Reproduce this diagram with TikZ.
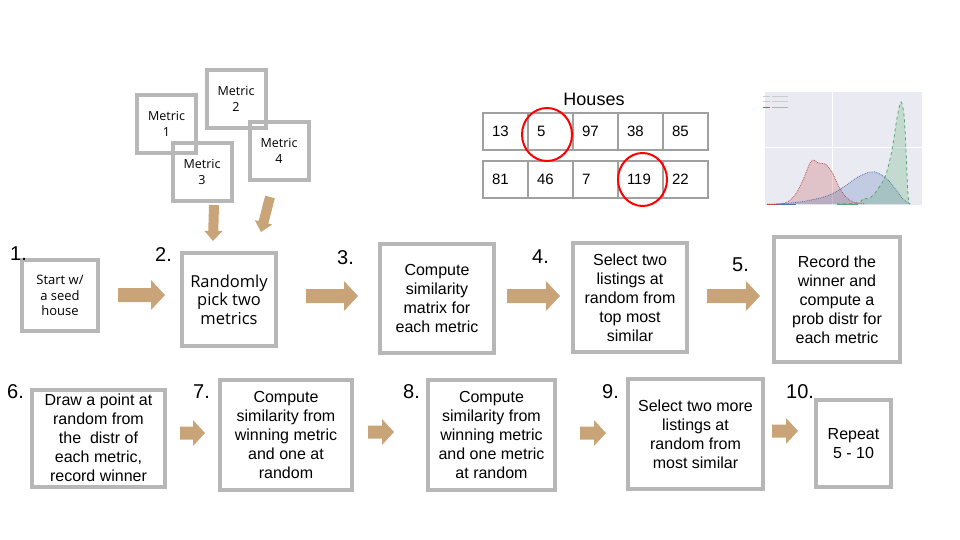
\documentclass[tikz,border=0pt]{standalone}
\usepackage{fontspec}
\setmainfont{Liberation Sans}
\newfontfamily\opensans{Open Sans}
\usetikzlibrary{calc,shapes.geometric}
\definecolor{boxgray}{HTML}{B7B7B7}
\definecolor{arrowtan}{HTML}{C8A478}
\definecolor{tablegray}{HTML}{A0A0A0}
\definecolor{plotbg}{HTML}{EAEAF2}
\definecolor{pred}{HTML}{C44E52}
\definecolor{pblue}{HTML}{4C72B0}
\definecolor{pgreen}{HTML}{55A868}
\newcommand\blockarrow[5]{%
  \coordinate (ba-A) at #1;
  \coordinate (ba-B) at #2;
  \coordinate (ba-H) at ($(ba-B)!#5!(ba-A)$);
  \fill[arrowtan] ($(ba-A)!#3!90:(ba-B)$) -- ($(ba-H)!#3!90:(ba-B)$) -- ($(ba-H)!#4!90:(ba-B)$)
    -- (ba-B) -- ($(ba-H)!#4!-90:(ba-B)$) -- ($(ba-H)!#3!-90:(ba-B)$) -- ($(ba-A)!#3!-90:(ba-B)$) -- cycle;
}
\begin{document}
\begin{tikzpicture}[x=1pt,y=-1pt,
  box/.style={draw=boxgray,line width=4pt,inner sep=0pt,align=center,text depth=0pt,
    font={\fontsize{16}{19}\selectfont}},
  metricbox/.style={draw=boxgray,line width=4pt,inner sep=0pt,align=center,text depth=0pt,
    minimum width=59pt,minimum height=58pt,font={\opensans\fontsize{12.5}{16}\selectfont}},
  steplabel/.style={anchor=base west,inner sep=0pt,font={\fontsize{20}{22}\selectfont}},
  cell/.style={draw=tablegray,line width=1.2pt,minimum height=37pt,text width=27pt,
    inner xsep=9pt,align=left,font={\fontsize{15}{17}\selectfont}},
  redring/.style={draw=red,line width=2pt,ellipse,inner sep=0pt}
]
\useasboundingbox (0,0) rectangle (960,540);

% metric boxes
\node[metricbox] (m1) at (166.5,124) {Metric\\1};
\node[metricbox] (m2) at (236,99) {Metric\\2};
\node[metricbox] (m3) at (202,172) {Metric\\3};
\node[metricbox] (m4) at (279,151) {Metric\\4};

% main boxes row 1
\node[box,minimum width=76pt,minimum height=71pt,font={\opensans\fontsize{13}{15.5}\selectfont}] (b1) at (60,295.5) {Start w/\\a seed\\house};
\node[box,minimum width=94pt,minimum height=93pt,font={\opensans\fontsize{16.5}{18.5}\selectfont}] (b2) at (229,299.5) {Randomly\\pick two\\metrics};
\node[box,minimum width=114pt,minimum height=109pt] (b3) at (437,298.5) {Compute\\similarity\\matrix for\\each metric};
\node[box,minimum width=114pt,minimum height=109pt] (b4) at (630,297.5) {Select two\\listings at\\random from\\top most\\similar};
\node[box,minimum width=126pt,minimum height=125pt] (b5) at (837,299.5) {Record the\\winner and\\compute a\\prob distr for\\each metric};

% row 2
\node[box,minimum width=133pt,minimum height=97pt] (b6) at (98.5,438) {Draw a point at\\random from\\the\ \ distr of\\each metric,\\record winner};
\node[box,minimum width=132pt,minimum height=110pt] (b7) at (286,435) {Compute\\similarity from\\winning metric\\and one at\\random};
\node[box,minimum width=127pt,minimum height=110pt] (b8) at (491.5,435) {Compute\\similarity from\\winning metric\\and one metric\\at random};
\node[box,minimum width=135pt,minimum height=110pt] (b9) at (695.5,434) {Select two more\\listings at\\random from\\most similar};
\node[box,minimum width=75pt,minimum height=87pt] (b10) at (853.5,443.5) {Repeat\\5 - 10};

% step labels
\node[steplabel] (l1) at (10,260) {1.};
\node[steplabel] (l2) at (155,261) {2.};
\node[steplabel] (l3) at (337,264) {3.};
\node[steplabel] (l4) at (532,263) {4.};
\node[steplabel] (l5) at (732,271) {5.};
\node[steplabel] (l6) at (7,398) {6.};
\node[steplabel] (l7) at (193,398) {7.};
\node[steplabel] (l8) at (403,398) {8.};
\node[steplabel] (l9) at (602,398) {9.};
\node[steplabel] (l10) at (786,398) {10.};

% block arrows
\blockarrow{(118,295)}{(165,295)}{7pt}{15pt}{14pt}
\blockarrow{(306,296)}{(358,296)}{7pt}{15pt}{14pt}
\blockarrow{(507,296)}{(560,296)}{7pt}{15pt}{14pt}
\blockarrow{(707,296)}{(760,296)}{7pt}{15pt}{14pt}
\blockarrow{(180,433)}{(205,433)}{6.5pt}{13pt}{12pt}
\blockarrow{(368,432)}{(394,432)}{6.5pt}{13pt}{12pt}
\blockarrow{(580,433)}{(606,433)}{6.5pt}{13pt}{12pt}
\blockarrow{(772,431)}{(798,431)}{6.5pt}{13pt}{12pt}
\blockarrow{(214,205)}{(213,241)}{5pt}{9pt}{10pt}
\blockarrow{(270,197)}{(261,232)}{5pt}{9pt}{10pt}

% houses table
\node[inner sep=0pt,font={\fontsize{18}{20}\selectfont}] (htitle) at (594,99) {Houses};
\node[cell] (h11) at (505.5,131.5) {13};
\node[cell] (h12) at (550.5,131.5) {5};
\node[cell] (h13) at (595.5,131.5) {97};
\node[cell] (h14) at (640.5,131.5) {38};
\node[cell] (h15) at (685.5,131.5) {85};
\node[cell] (h21) at (505.5,179.5) {81};
\node[cell] (h22) at (550.5,179.5) {46};
\node[cell] (h23) at (595.5,179.5) {7};
\node[cell] (h24) at (640.5,179.5) {119};
\node[cell] (h25) at (685.5,179.5) {22};
\node[redring,minimum width=50pt,minimum height=53pt] (c1) at (547,134.5) {};
\node[redring,minimum width=49pt,minimum height=53pt] (c2) at (642.5,179.5) {};

% plot
\fill[plotbg] (765,92) rectangle (922,205);
\draw[white,line width=1pt] (832,92) -- (832,205);
\draw[white,line width=1pt] (765,148) -- (922,148);
\fill[pred,opacity=0.25] plot[smooth] coordinates {(767,204) (785,203) (795,195) (803,180) (810,163) (814,160) (818,163) (825,164) (832,172) (838,185) (845,196) (853,202) (865,204)} -- cycle;
\draw[pred,line width=0.8pt,densely dotted] plot[smooth] coordinates {(767,204) (785,203) (795,195) (803,180) (810,163) (814,160) (818,163) (825,164) (832,172) (838,185) (845,196) (853,202) (865,204)};
\fill[pblue,opacity=0.25] plot[smooth] coordinates {(777,204) (800,202) (820,198) (832,194) (845,186) (858,177) (870,172) (878,173) (888,180) (896,190) (903,199) (910,204)} -- cycle;
\draw[pblue,line width=0.8pt,densely dotted] plot[smooth] coordinates {(777,204) (800,202) (820,198) (832,194) (845,186) (858,177) (870,172) (878,173) (888,180) (896,190) (903,199) (910,204)};
\fill[pgreen,opacity=0.25] plot[smooth] coordinates {(837,204) (858,203) (864,198) (868,199) (875,193) (885,177) (892,150) (897,118) (901,102) (904,115) (906,150) (908,195) (910,204)} -- cycle;
\draw[pgreen,line width=0.8pt,dashed] plot[smooth] coordinates {(837,204) (858,203) (864,198) (868,199) (875,193) (885,177) (892,150) (897,118) (901,102) (904,115) (906,150) (908,195) (910,204)};
\draw[pred,line width=0.8pt] (767,204) -- (777,204);
\draw[pblue,line width=0.8pt] (777,204) -- (796,204);
\draw[pgreen,line width=0.8pt] (837,204) -- (858,204);
\draw[white!80!black,line width=0.6pt] (763,96) -- (770,96) (772,96) -- (788,96);
\draw[white!80!black,line width=0.6pt] (763,101) -- (770,101) (772,101) -- (788,101);
\draw[pred,line width=0.8pt] (763,107) -- (770,107);
\draw[white!70!black,line width=0.6pt] (772,107) -- (788,107);
\end{tikzpicture}
\end{document}
